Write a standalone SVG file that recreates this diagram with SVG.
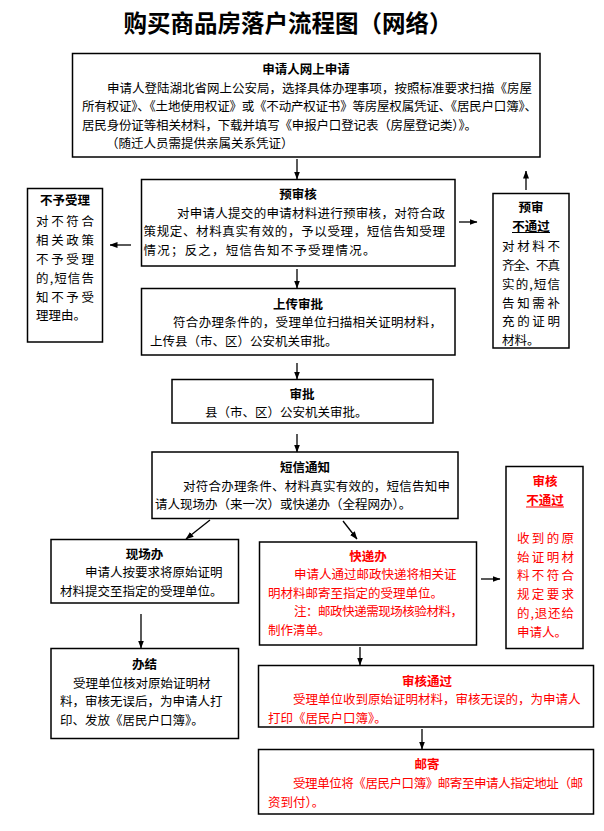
<svg xmlns="http://www.w3.org/2000/svg" width="604" height="831" viewBox="0 0 604 831">
<style>
text{font-family:"Noto Sans CJK SC","Noto Sans",sans-serif;font-size:12.5px;dominant-baseline:central;fill:#000}
.h{font-weight:bold;text-anchor:middle}
.r{fill:#ff0000}
.title{font-size:23.5px;font-weight:bold;text-anchor:middle}
.box{fill:#fff;stroke:#000;stroke-width:1.5}
.ln{stroke:#000;stroke-width:1.3;fill:none;marker-end:url(#ah)}
.ul{stroke:#000;stroke-width:1.2}
.ulr{stroke:#ff0000;stroke-width:1.2}
</style>
<defs>
<marker id="ah" markerUnits="userSpaceOnUse" markerWidth="8" markerHeight="8" viewBox="0 0 8 8" refX="7.5" refY="4" orient="auto">
<path d="M0,1 L8,4 L0,7 Z" fill="#000"/>
</marker>
</defs>
<rect width="604" height="831" fill="#fff"/>
<text class="title" x="288" y="22">购买商品房落户流程图（网络）</text>

<g id="connectors">
<line class="ln" x1="297" y1="159" x2="297" y2="179"/>
<line class="ln" x1="131" y1="245" x2="110" y2="245"/>
<line class="ln" x1="459" y1="222" x2="477" y2="222"/>
<line class="ln" x1="526" y1="190" x2="526" y2="171"/>
<line class="ln" x1="297" y1="269" x2="297" y2="288"/>
<line class="ln" x1="297" y1="363" x2="297" y2="379"/>
<line class="ln" x1="297" y1="434" x2="297" y2="452"/>
<line class="ln" x1="210" y1="520" x2="186" y2="539"/>
<line class="ln" x1="343" y1="521" x2="357" y2="539"/>
<line class="ln" x1="141" y1="614" x2="141" y2="648"/>
<line class="ln" x1="481" y1="579" x2="500" y2="579"/>
<line class="ln" x1="360" y1="647" x2="360" y2="665"/>
<line class="ln" x1="422" y1="729" x2="422" y2="749"/>
</g>

<g id="apply">
<rect class="box" x="72.5" y="53.5" width="467.5" height="103.5"/>
<text class="h" x="306" y="68.5">申请人网上申请</text>
<text x="107" y="87" textLength="425" lengthAdjust="spacing">申请人登陆湖北省网上公安局，选择具体办理事项，按照标准要求扫描《房屋</text>
<text x="82" y="105.5" textLength="455" lengthAdjust="spacing">所有权证》、《土地使用权证》或《不动产权证书》等房屋权属凭证、《居民户口簿》、</text>
<text x="82" y="124" textLength="395" lengthAdjust="spacing">居民身份证等相关材料，下载并填写《申报户口登记表（房屋登记类）》。</text>
<text x="106" y="142.5">（随迁人员需提供亲属关系凭证）</text>
</g>

<g id="precheck">
<rect class="box" x="141.5" y="179.5" width="313.5" height="86.5"/>
<text class="h" x="298" y="193">预审核</text>
<text x="177" y="212" textLength="268" lengthAdjust="spacing">对申请人提交的申请材料进行预审核，对符合政</text>
<text x="143.5" y="230.5" textLength="301.5" lengthAdjust="spacing">策规定、材料真实有效的，予以受理，短信告知受理</text>
<text x="143.5" y="249" textLength="232" lengthAdjust="spacing">情况；反之，短信告知不予受理情况。</text>
</g>

<g id="reject">
<rect class="box" x="27.5" y="188.5" width="75" height="153.5"/>
<text class="h" x="65" y="199.5">不予受理</text>
<text x="36" y="220" textLength="58" lengthAdjust="spacing">对不符合</text>
<text x="36" y="239" textLength="58" lengthAdjust="spacing">相关政策</text>
<text x="36" y="258" textLength="58" lengthAdjust="spacing">不予受理</text>
<text x="36" y="277" textLength="58" lengthAdjust="spacing">的,短信告</text>
<text x="36" y="296" textLength="58" lengthAdjust="spacing">知不予受</text>
<text x="36" y="314.5">理理由。</text>
</g>

<g id="prefail">
<rect class="box" x="493" y="193.5" width="76" height="154.5"/>
<text class="h" x="531" y="206.5">预审</text>
<text class="h" x="531" y="225">不通过</text>
<line class="ul" x1="512" y1="232.5" x2="550" y2="232.5"/>
<text x="502" y="245.5" textLength="58" lengthAdjust="spacing">对材料不</text>
<text x="502" y="264" textLength="58" lengthAdjust="spacing">齐全、不真</text>
<text x="502" y="283" textLength="58" lengthAdjust="spacing">实的,短信</text>
<text x="502" y="302" textLength="58" lengthAdjust="spacing">告知需补</text>
<text x="502" y="320.5" textLength="58" lengthAdjust="spacing">充的证明</text>
<text x="502" y="339">材料。</text>
</g>

<g id="upload">
<rect class="box" x="141.5" y="288.5" width="313.5" height="66.5"/>
<text class="h" x="298" y="303">上传审批</text>
<text x="173" y="321.5" textLength="269" lengthAdjust="spacing">符合办理条件的，受理单位扫描相关证明材料，</text>
<text x="150" y="340">上传县（市、区）公安机关审批。</text>
</g>

<g id="approve">
<rect class="box" x="172" y="379.5" width="261" height="43.5"/>
<text class="h" x="302" y="393">审批</text>
<text x="205" y="411.5">县（市、区）公安机关审批。</text>
</g>

<g id="sms">
<rect class="box" x="152" y="452" width="306" height="66.5"/>
<text class="h" x="305" y="466.5">短信通知</text>
<text x="183" y="485" textLength="267" lengthAdjust="spacing">对符合办理条件、材料真实有效的，短信告知申</text>
<text x="155" y="503.5">请人现场办（来一次）或快递办（全程网办）。</text>
</g>

<g id="onsite">
<rect class="box" x="51" y="539.5" width="187.5" height="63.5"/>
<text class="h" x="144.5" y="553">现场办</text>
<text x="85" y="571.5">申请人按要求将原始证明</text>
<text x="60" y="590">材料提交至指定的受理单位。</text>
</g>

<g id="done">
<rect class="box" x="51" y="648.5" width="187.5" height="90"/>
<text class="h" x="144.5" y="663.5">办结</text>
<text x="73" y="682">受理单位核对原始证明材</text>
<text x="60" y="700.5">料，审核无误后，为申请人打</text>
<text x="60" y="719">印、发放《居民户口簿》。</text>
</g>

<g id="express">
<rect class="box" x="259.5" y="542" width="217" height="103"/>
<text class="h r" x="368" y="555">快递办</text>
<text class="r" x="294" y="573.5">申请人通过邮政快递将相关证</text>
<text class="r" x="268" y="592">明材料邮寄至指定的受理单位。</text>
<text class="r" x="294" y="610.5" textLength="169" lengthAdjust="spacing">注：邮政快递需现场核验材料，</text>
<text class="r" x="268" y="629">制作清单。</text>
</g>

<g id="checkfail">
<rect class="box" x="506" y="466.5" width="77" height="182"/>
<text class="h r" x="545" y="480.5">审核</text>
<text class="h r" x="545" y="499.5">不通过</text>
<line class="ulr" x1="526" y1="507" x2="564" y2="507"/>
<text class="r" x="517" y="537" textLength="57" lengthAdjust="spacing">收到的原</text>
<text class="r" x="517" y="556" textLength="57" lengthAdjust="spacing">始证明材</text>
<text class="r" x="517" y="574.5" textLength="57" lengthAdjust="spacing">料不符合</text>
<text class="r" x="517" y="593" textLength="57" lengthAdjust="spacing">规定要求</text>
<text class="r" x="517" y="612" textLength="57" lengthAdjust="spacing">的,退还给</text>
<text class="r" x="517" y="631">申请人。</text>
</g>

<g id="checkpass">
<rect class="box" x="258.5" y="665.5" width="335" height="61.5"/>
<text class="h r" x="427" y="680">审核通过</text>
<text class="r" x="293" y="698.5">受理单位收到原始证明材料，审核无误的，为申请人</text>
<text class="r" x="268" y="717">打印《居民户口簿》。</text>
</g>

<g id="mail">
<rect class="box" x="258.5" y="749.5" width="335" height="64.5"/>
<text class="h r" x="427" y="763">邮寄</text>
<text class="r" x="293" y="782" textLength="290" lengthAdjust="spacing">受理单位将《居民户口簿》邮寄至申请人指定地址（邮</text>
<text class="r" x="268" y="801">资到付）。</text>
</g>
</svg>
